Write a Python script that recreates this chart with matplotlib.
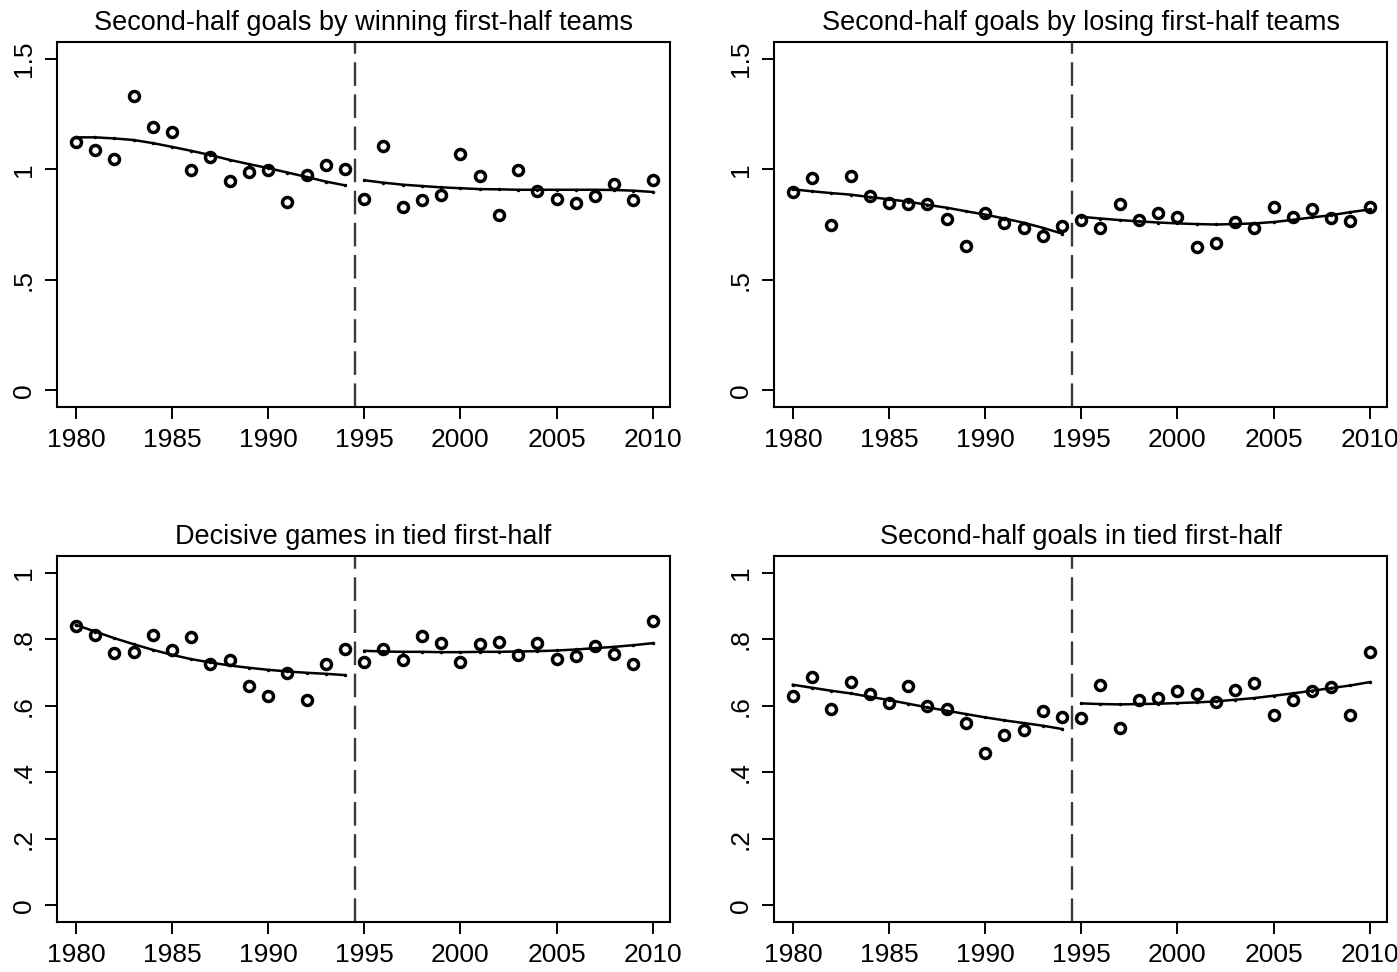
import numpy as np
import matplotlib
matplotlib.use("Agg")
import matplotlib.pyplot as plt

plt.rcParams['font.family'] = ['Liberation Sans', 'DejaVu Sans']

years = np.arange(1980, 2011)

# yearly averages, 1980-2010
winning_goals = [1.121, 1.086, 1.045, 1.333, 1.192, 1.167, 0.995, 1.056, 0.947, 0.988,
                 0.995, 0.852, 0.974, 1.018, 1.000, 0.867, 1.106, 0.829, 0.859, 0.882,
                 1.068, 0.967, 0.792, 0.997, 0.902, 0.867, 0.845, 0.879, 0.935, 0.861,
                 0.952]
losing_goals = [0.897, 0.959, 0.747, 0.970, 0.879, 0.848, 0.844, 0.841, 0.777, 0.652,
                0.803, 0.755, 0.733, 0.700, 0.742, 0.770, 0.736, 0.841, 0.770, 0.800,
                0.785, 0.648, 0.667, 0.761, 0.733, 0.829, 0.785, 0.818, 0.780, 0.765,
                0.830]
decisive_tied = [0.839, 0.814, 0.759, 0.762, 0.812, 0.766, 0.807, 0.726, 0.737, 0.660,
                 0.628, 0.698, 0.616, 0.726, 0.769, 0.732, 0.769, 0.737, 0.811, 0.789,
                 0.732, 0.787, 0.791, 0.752, 0.789, 0.739, 0.749, 0.779, 0.756, 0.724,
                 0.856]
tied_goals = [0.630, 0.685, 0.590, 0.671, 0.636, 0.608, 0.658, 0.598, 0.590, 0.548,
              0.459, 0.512, 0.528, 0.583, 0.566, 0.562, 0.663, 0.533, 0.616, 0.622,
              0.643, 0.636, 0.612, 0.646, 0.668, 0.571, 0.616, 0.643, 0.656, 0.572,
              0.761]

# smoothed values per year (1980-1994 and 1995-2010 fitted separately)
winning_fit = [1.144, 1.144, 1.139, 1.132, 1.118, 1.101, 1.083, 1.064, 1.042, 1.023,
               1.005, 0.985, 0.965, 0.944, 0.927,
               0.950, 0.939, 0.930, 0.924, 0.918, 0.914, 0.910, 0.909, 0.907, 0.907,
               0.907, 0.907, 0.907, 0.906, 0.903, 0.897]
losing_fit = [0.909, 0.900, 0.892, 0.885, 0.874, 0.864, 0.853, 0.839, 0.826, 0.810,
              0.795, 0.777, 0.758, 0.735, 0.709,
              0.785, 0.777, 0.770, 0.764, 0.759, 0.755, 0.752, 0.750, 0.752, 0.755,
              0.761, 0.771, 0.782, 0.792, 0.806, 0.818]
decisive_fit = [0.843, 0.823, 0.803, 0.785, 0.768, 0.753, 0.740, 0.730, 0.721, 0.714,
                0.708, 0.703, 0.699, 0.696, 0.692,
                0.765, 0.763, 0.762, 0.762, 0.761, 0.761, 0.762, 0.762, 0.763, 0.764,
                0.766, 0.769, 0.773, 0.777, 0.782, 0.788]
tied_goals_fit = [0.663, 0.654, 0.645, 0.637, 0.627, 0.617, 0.606, 0.595, 0.585, 0.575,
                  0.565, 0.556, 0.548, 0.540, 0.530,
                  0.607, 0.605, 0.604, 0.605, 0.606, 0.608, 0.610, 0.613, 0.618, 0.623,
                  0.630, 0.637, 0.645, 0.653, 0.661, 0.671]

titles = ["Second-half goals by winning first-half teams",
          "Second-half goals by losing first-half teams",
          "Decisive games in tied first-half",
          "Second-half goals in tied first-half"]

top_ticks = [0, 0.5, 1, 1.5]
top_labels = ["0", ".5", "1", "1.5"]
bottom_ticks = [0, 0.2, 0.4, 0.6, 0.8, 1]
bottom_labels = ["0", ".2", ".4", ".6", ".8", "1"]
year_ticks = [1980, 1985, 1990, 1995, 2000, 2005, 2010]

break_year = 1994.5

W, H = 1397, 972
fig = plt.figure(figsize=(W / 100, H / 100), dpi=100)

# axes boxes in pixels: left, right, top, bottom
boxes = [(57, 670, 42, 407), (774, 1387, 42, 407),
         (57, 670, 556, 922), (774, 1387, 556, 922)]
series = [winning_goals, losing_goals, decisive_tied, tied_goals]
fits = [winning_fit, losing_fit, decisive_fit, tied_goals_fit]

for idx, (box, vals, fit, title) in enumerate(zip(boxes, series, fits, titles)):
    l, r, t, b = box
    ax = fig.add_axes([l / W, 1 - b / H, (r - l) / W, (b - t) / H])
    vals = np.array(vals)
    fit = np.array(fit)

    ax.axvline(break_year, color='#3a3a3a', lw=1.7, linestyle=(0, (10, 3.6)), zorder=1)

    ax.plot(years, vals, 'o', ms=7.2, mfc='none', mec='black', mew=2.5, zorder=3)

    before = years < break_year
    for mask in (before, ~before):
        ax.plot(years[mask], fit[mask], color='black', lw=1.8, marker='.', ms=3, zorder=2)

    ax.set_xlim(1979.02, 2010.9)
    ax.set_xticks(year_ticks)
    if idx < 2:
        ax.set_ylim(-0.075, 1.575)
        ax.set_yticks(top_ticks)
        ax.set_yticklabels(top_labels)
    else:
        ax.set_ylim(-0.05, 1.05)
        ax.set_yticks(bottom_ticks)
        ax.set_yticklabels(bottom_labels)

    for lbl in ax.get_yticklabels():
        lbl.set_rotation(90)
        lbl.set_va('center')

    ax.tick_params(axis='both', direction='out', length=8.4, width=1.4,
                   labelsize=19, pad=7)
    for s in ax.spines.values():
        s.set_linewidth(1.5)
    ax.set_title(title, fontsize=19.5, pad=8.5)

fig.savefig("out.png", dpi=100)
